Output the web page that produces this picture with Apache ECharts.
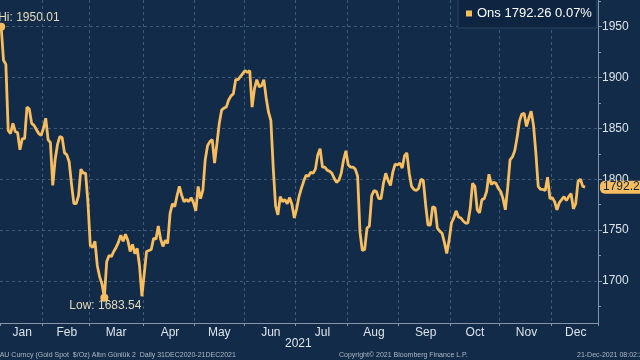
<!DOCTYPE html>
<html><head><meta charset="utf-8">
<script src="https://cdn.jsdelivr.net/npm/echarts@6/dist/echarts.min.js"></script>
<style>html,body{margin:0;padding:0;background:#112b48;}#c{width:640px;height:360px;}</style>
</head><body><div id="c"></div>
<script>
// ---- data (daily gold spot, USD/oz, weekdays) ----
const monthNames = ['Jan','Feb','Mar','Apr','May','Jun','Jul','Aug','Sep','Oct','Nov','Dec'];
const jan = [1950.01,1917,1913,1848,1845,1855,1847,1846,1829,1840,1840,1871,1869,1855,1853,1849,1845,1843];
const feb = [1850,1860,1839,1836,1794,1819,1834,1842,1841,1826,1824,1817,1795,1776,1776,1784,1810,1806,1806,1777];
const mar = [1735,1733,1739,1715,1704,1697,1683.54,1719,1725,1724,1729,1733,1738,1745,1739,1746,1740,1729,1736,1727,1732,1715,1685];
const apr = [1707,1729,1730,1731,1742,1741,1754,1741,1734,1740,1737,1766,1776,1773,1784,1793,1784,1778,1780,1778,1782,1777];
const may = [1769,1793,1781,1789,1819,1833,1837,1839,1816,1835,1855,1868,1870,1871,1878,1882,1884,1898,1898,1901,1904];
const jun = [1907,1905,1907,1871,1889,1898,1891,1892,1898,1880,1866,1858,1812,1774,1765,1783,1778,1780,1776,1782,1775,1762];
const jul = [1771,1783,1791,1798,1804,1803,1807,1806,1810,1824,1830,1812,1812,1809,1808,1806,1801,1797,1799,1806,1819,1828];
const aug = [1814,1812,1812,1810,1803,1748,1730,1731,1752,1754,1784,1789,1788,1781,1781,1796,1806,1799,1794,1807,1815,1814];
const sep = [1816,1811,1823,1826,1806,1793,1790,1789,1791,1800,1799,1775,1755,1755,1773,1772,1752,1749,1747,1738,1727,1740];
const oct = [1757,1762,1769,1763,1762,1759,1757,1757,1771,1796,1793,1770,1767,1780,1781,1788,1805,1795,1797,1796,1791];
const nov = [1788,1781,1770,1792,1819,1822,1828,1841,1857,1864,1865,1852,1860,1867,1853,1826,1793,1790,1790,1789,1802,1781];
const dec = [1782,1778,1770,1777,1780,1783,1779,1783,1786,1771,1776,1798,1800,1793,1792.26];
const yTicks = [1700,1750,1800,1850,1900,1950];
const yMinorTicks = [1675,1725,1775,1825,1875,1925,1975];
const seriesLabel = 'Ons';
const changePct = '0.07%';
const yearLabel = '2021';
const footerLeft = 'XAU Curncy (Gold Spot  $/Oz) Altın Günlük 2  Daily 31DEC2020-21DEC2021';
const footerMid = 'Copyright\u00A9 2021 Bloomberg Finance L.P.';
const footerRight = '21-Dec-2021 08:02:23';

// ---- build ----
const monthly = [jan,feb,mar,apr,may,jun,jul,aug,sep,oct,nov,dec];
const values = [].concat(...monthly);
const categories = [];
const starts = [];
monthly.forEach((arr, m) => { starts.push(categories.length); arr.forEach(() => categories.push(monthNames[m])); });
const PAD = 5;
for (let k = 0; k < PAD; k++) categories.push('');
const startSet = new Set(starts);
const midSet = new Set();
starts.forEach((s, m) => {
  const e = m < starts.length - 1 ? starts[m + 1] - 1 : categories.length - 1;
  midSet.add(Math.round((s + e) / 2));
});
const last = values[values.length - 1];
const lastStr = last.toFixed(2);

const BG = '#112b48';
const LINE = '#f8bd5f';
const TXT = '#dde3ea';
const GRID = '#3e5a7b';
const AXIS = '#8596ab';
const NOTE = '#e6dabb';
const FONT = '"Liberation Sans", Arial, sans-serif';
const yMin = 1658.7, yMax = 1976.3;

const chart = echarts.init(document.getElementById('c'));
chart.setOption({
  backgroundColor: BG,
  animation: false,
  textStyle: { fontFamily: FONT },
  grid: { left: 0, right: 42, top: 0, bottom: 37, containLabel: false, outerBoundsMode: 'none' },
  legend: {
    show: true, left: 458, top: -1,
    padding: [8, 5, 8, 8],
    itemWidth: 6, itemHeight: 6, icon: 'rect',
    backgroundColor: '#0e2541', borderColor: '#2b4564', borderWidth: 1,
    textStyle: { color: '#ffffff', fontSize: 13, fontFamily: FONT },
    data: [seriesLabel + ' ' + lastStr + ' ' + changePct]
  },
  xAxis: {
    type: 'category', data: categories, boundaryGap: true,
    axisLine: { show: true, lineStyle: { color: AXIS, width: 1 } },
    axisTick: { show: true, length: 3, interval: (i) => startSet.has(i), lineStyle: { color: AXIS } },
    axisLabel: { interval: (i) => midSet.has(i), color: TXT, fontSize: 12, margin: 4, fontFamily: FONT },
    splitLine: { show: true, interval: (i) => startSet.has(i) && i > 0, lineStyle: { color: GRID, type: [3, 3], width: 1 } }
  },
  yAxis: [
    {
      type: 'value', position: 'right', min: yMin, max: yMax,
      axisLine: { show: true, lineStyle: { color: AXIS } },
      axisTick: { show: true, length: 4, customValues: yTicks, lineStyle: { color: AXIS } },
      axisLabel: { customValues: yTicks, formatter: (v) => String(v), color: TXT, fontSize: 12, margin: 4, fontFamily: FONT },
      splitLine: { show: true, lineStyle: { color: GRID, type: [3, 3], width: 1 } }
    },
    {
      type: 'value', position: 'right', min: yMin, max: yMax,
      axisLine: { show: false },
      axisTick: { show: true, length: 3, customValues: yMinorTicks, lineStyle: { color: AXIS } },
      axisLabel: { show: false }, splitLine: { show: false }
    },
    {
      type: 'value', position: 'right', min: yMin, max: yMax, z: 10,
      axisLine: { show: false }, axisTick: { show: false }, splitLine: { show: false },
      axisLabel: {
        customValues: [last], formatter: () => lastStr, margin: 2,
        color: '#10263f', fontSize: 12, fontFamily: FONT,
        backgroundColor: LINE, padding: [1, 4, 0, 3], borderRadius: [5, 0, 0, 5]
      }
    }
  ],
  series: [{
    name: seriesLabel + ' ' + lastStr + ' ' + changePct,
    type: 'line', data: values, showSymbol: false, symbol: 'rect',
    itemStyle: { color: LINE },
    lineStyle: { color: LINE, width: 2.8 },
    markPoint: {
      symbol: 'circle', symbolSize: 8, itemStyle: { color: LINE },
      data: [
        { type: 'max', label: { show: true, formatter: (p) => 'Hi: ' + p.value.toFixed(2), position: [1, -11], color: NOTE, fontSize: 12, fontFamily: FONT } },
        { type: 'min', label: { show: true, formatter: (p) => 'Low: ' + p.value.toFixed(2), position: [5, 6], align: 'center', color: NOTE, fontSize: 12, fontFamily: FONT } }
      ]
    }
  }],
  graphic: [
    { type: 'text', left: 285, top: 338, style: { text: yearLabel, fill: TXT, font: '12px ' + FONT } },
    { type: 'text', left: -5, top: 352, style: { text: footerLeft, fill: '#aeb8c4', font: '7px ' + FONT } },
    { type: 'text', left: 339, top: 352, style: { text: footerMid, fill: '#aeb8c4', font: '7px ' + FONT } },
    { type: 'text', left: 577, top: 352, style: { text: footerRight, fill: '#aeb8c4', font: '7px ' + FONT } }
  ]
});
</script></body></html>
